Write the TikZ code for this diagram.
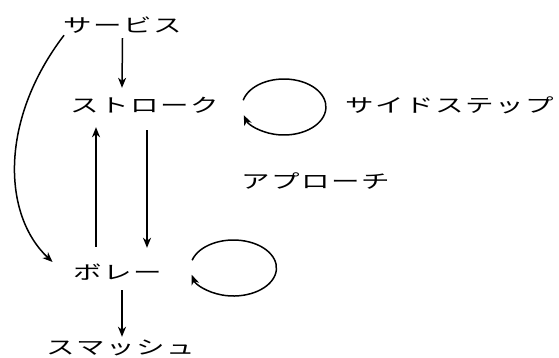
\documentclass[tikz,border=0pt]{standalone}
\usepackage{fontspec}
\newfontfamily\jpfont[FakeStretch=1.5]{Noto Sans CJK JP}
\usetikzlibrary{arrows.meta,calc}
\newcommand\jsp{\hspace{1.5pt}}
\begin{document}
\begin{tikzpicture}[x=1pt,y=-1pt,
  lbl/.style={font=\jpfont\fontsize{19}{19}\selectfont, inner sep=0pt, text height=15.5pt, text depth=0.5pt},
  arr/.style={line width=1.5pt, -{Stealth[length=10pt,width=8pt,inset=3pt]}}]
\useasboundingbox (0,0) rectangle (559,357);
\node[lbl] (sv) at (122.5,25) {サ\jsp ー\jsp ビ\jsp ス};
\node[lbl] (st) at (144.5,105) {ス\jsp ト\jsp ロ\jsp ー\jsp ク};
\node[lbl] (ss) at (450,105) {サ\jsp イ\jsp ド\jsp ス\jsp テ\jsp ッ\jsp プ};
\node[lbl] (ap) at (316,181) {ア\jsp プ\jsp ロ\jsp ー\jsp チ};
\node[lbl] (vo) at (118,272) {ボ\jsp レ\jsp ー};
\node[lbl] (sm) at (121,347) {ス\jsp マ\jsp ッ\jsp シ\jsp ュ};
% service -> stroke
\draw[arr] ($(sv.south)+(0,5)$) -- ($(st.north)+(-22.5,-9)$);
% volley -> stroke (up)
\draw[arr] ($(vo.north)+(-22,-17)$) -- ($(st.south)+(-48.5,14)$);
% stroke -> volley (down)
\draw[arr] ($(st.south)+(2.5,17)$) -- ($(vo.north)+(29,-16)$);
% volley -> smash
\draw[arr] ($(vo.south)+(4,10)$) -- ($(sm.north)+(1,-2)$);
% service -> volley (curve)
\draw[arr] ($(sv.south west)+(1,2)$) .. controls ($(sv.south west)+(-64,87)$) and ($(vo.west)+(-71,-57)$) .. ($(vo.west)+(-21,-10)$);
% self loops
\draw[arr] ($(st.east)+(65,2)+(194:42 and 28)$) arc[start angle=194, end angle=523, x radius=42, y radius=28];
\draw[arr] ($(vo.east)+(71,-4)+(196:43 and 28)$) arc[start angle=196, end angle=526, x radius=43, y radius=28];
\end{tikzpicture}
\end{document}
